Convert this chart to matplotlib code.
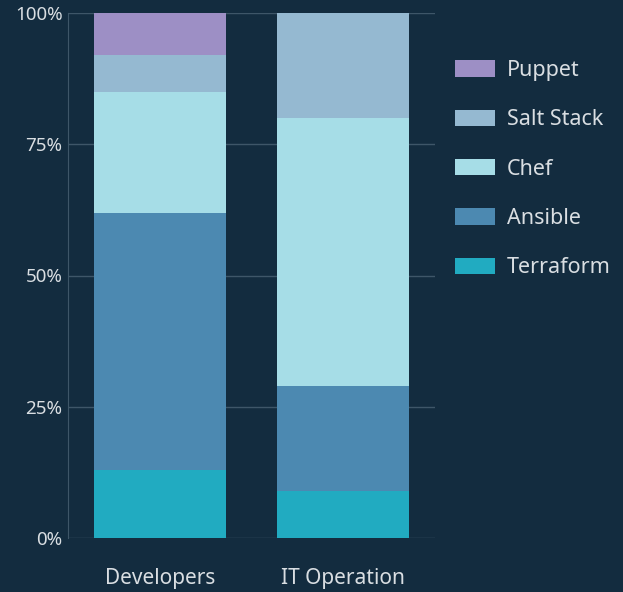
import matplotlib
matplotlib.use("Agg")
import matplotlib.pyplot as plt
import numpy as np

# categorias e valores (% por grupo)
groups = ["Developers", "IT Operation"]
tools = ["Terraform", "Ansible", "Chef", "Salt Stack", "Puppet"]
terraform = [13, 9]
ansible = [49, 20]
chef = [23, 51]
salt_stack = [7, 20]
puppet = [8, 0]
colors = ["#21abc1", "#4c89b1", "#a6dde7", "#95b9d1", "#9d8fc5"]
yticks = [0, 25, 50, 75, 100]
ytick_labels = ["0%", "25%", "50%", "75%", "100%"]

bg = "#132c3f"
text_color = "#d9dee2"
grid_color = "#3e5668"

plt.rcParams["font.family"] = ["Noto Sans", "DejaVu Sans"]

fig = plt.figure(figsize=(6.23, 5.92), dpi=100, facecolor=bg)
ax = fig.add_axes([68 / 623, 54 / 592, 367 / 623, 525 / 592], facecolor=bg)

x = np.arange(len(groups))
bottom = np.zeros(len(groups))
series = [terraform, ansible, chef, salt_stack, puppet]
handles = []
for name, vals, c in zip(tools, series, colors):
    b = ax.bar(x, vals, bottom=bottom, width=0.72, color=c, label=name, zorder=2)
    handles.append(b)
    bottom += np.array(vals)

ax.set_xlim(-0.5, 1.5)
ax.set_ylim(0, 100)
ax.set_yticks(yticks)
ax.set_yticklabels(ytick_labels)
ax.set_xticks(x)
ax.set_xticklabels(groups)
ax.yaxis.grid(True, color=grid_color, linewidth=1, zorder=0)
ax.tick_params(axis="y", length=0, pad=4, labelsize=13.5, colors=text_color)
ax.tick_params(axis="x", length=0, pad=21.5, labelsize=15, colors=text_color)
for s in ["top", "right", "bottom"]:
    ax.spines[s].set_visible(False)
ax.spines["left"].set_color(grid_color)

# legenda na ordem inversa (Puppet em cima)
leg = fig.legend(handles[::-1], tools[::-1], loc="upper left",
                 bbox_to_anchor=(455 / 623, 1 - 60 / 592), frameon=False,
                 fontsize=15.5, handlelength=1.86, handleheight=0.8,
                 labelspacing=1.315, handletextpad=0.56, borderpad=0, borderaxespad=0)
for t in leg.get_texts():
    t.set_color(text_color)

fig.savefig("out.png", dpi=100, facecolor=bg)
